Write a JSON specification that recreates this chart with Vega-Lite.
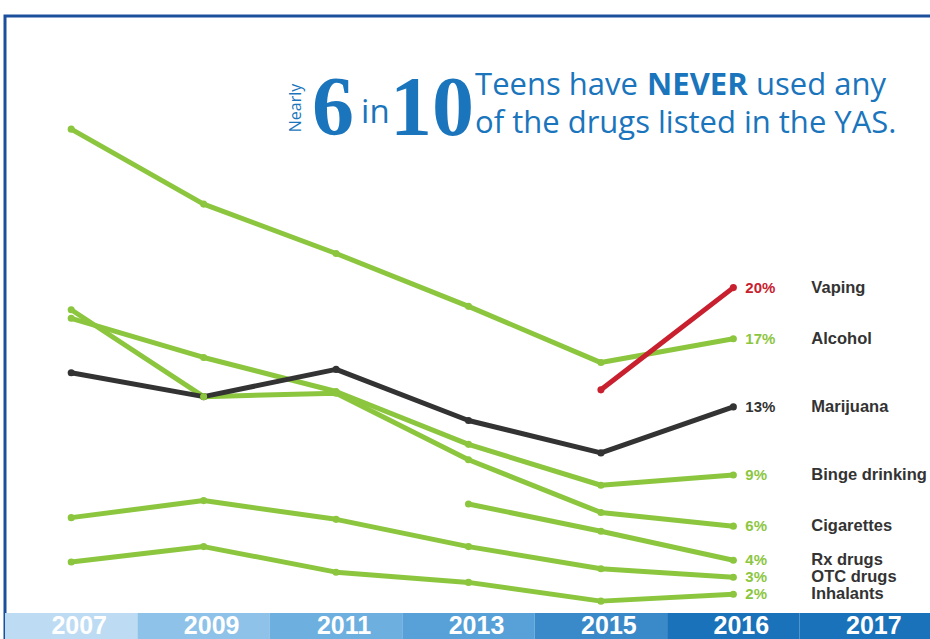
{
  "$schema": "https://vega.github.io/schema/vega-lite/v6.json",
  "width": 930,
  "height": 639,
  "autosize": {"type": "fit", "contains": "padding"},
  "padding": {"left": 5, "top": 16, "right": -2, "bottom": -2},
  "background": "#ffffff",
  "config": {"view": {"stroke": "#1b4f9c", "strokeWidth": 3}},
  "datasets": {
    "years": [
      {"year": "2007"}, {"year": "2009"}, {"year": "2011"}, {"year": "2013"},
      {"year": "2015"}, {"year": "2016"}, {"year": "2017"}
    ],
    "series": [
      {"drug": "Alcohol", "year": "2007", "pct": 29.3},
      {"drug": "Alcohol", "year": "2009", "pct": 24.9},
      {"drug": "Alcohol", "year": "2011", "pct": 22.0},
      {"drug": "Alcohol", "year": "2013", "pct": 18.9},
      {"drug": "Alcohol", "year": "2015", "pct": 15.6},
      {"drug": "Alcohol", "year": "2016", "pct": 17, "label": "17%"},
      {"drug": "Marijuana", "year": "2007", "pct": 15.0},
      {"drug": "Marijuana", "year": "2009", "pct": 13.6},
      {"drug": "Marijuana", "year": "2011", "pct": 15.2},
      {"drug": "Marijuana", "year": "2013", "pct": 12.2},
      {"drug": "Marijuana", "year": "2015", "pct": 10.3},
      {"drug": "Marijuana", "year": "2016", "pct": 13, "label": "13%"},
      {"drug": "Binge drinking", "year": "2007", "pct": 18.2},
      {"drug": "Binge drinking", "year": "2009", "pct": 15.9},
      {"drug": "Binge drinking", "year": "2011", "pct": 13.9},
      {"drug": "Binge drinking", "year": "2013", "pct": 10.8},
      {"drug": "Binge drinking", "year": "2015", "pct": 8.4},
      {"drug": "Binge drinking", "year": "2016", "pct": 9, "label": "9%"},
      {"drug": "Cigarettes", "year": "2007", "pct": 18.7},
      {"drug": "Cigarettes", "year": "2009", "pct": 13.6},
      {"drug": "Cigarettes", "year": "2011", "pct": 13.8},
      {"drug": "Cigarettes", "year": "2013", "pct": 9.9},
      {"drug": "Cigarettes", "year": "2015", "pct": 6.8},
      {"drug": "Cigarettes", "year": "2016", "pct": 6, "label": "6%"},
      {"drug": "Rx drugs", "year": "2013", "pct": 7.3},
      {"drug": "Rx drugs", "year": "2015", "pct": 5.7},
      {"drug": "Rx drugs", "year": "2016", "pct": 4, "label": "4%"},
      {"drug": "OTC drugs", "year": "2007", "pct": 6.5},
      {"drug": "OTC drugs", "year": "2009", "pct": 7.5},
      {"drug": "OTC drugs", "year": "2011", "pct": 6.4},
      {"drug": "OTC drugs", "year": "2013", "pct": 4.8},
      {"drug": "OTC drugs", "year": "2015", "pct": 3.5},
      {"drug": "OTC drugs", "year": "2016", "pct": 3, "label": "3%"},
      {"drug": "Inhalants", "year": "2007", "pct": 3.9},
      {"drug": "Inhalants", "year": "2009", "pct": 4.8},
      {"drug": "Inhalants", "year": "2011", "pct": 3.3},
      {"drug": "Inhalants", "year": "2013", "pct": 2.7},
      {"drug": "Inhalants", "year": "2015", "pct": 1.6},
      {"drug": "Inhalants", "year": "2016", "pct": 2, "label": "2%"},
      {"drug": "Vaping", "year": "2015", "pct": 14.0},
      {"drug": "Vaping", "year": "2016", "pct": 20, "label": "20%"}
    ]
  },
  "resolve": {"scale": {"color": "independent"}},
  "layer": [
    {
      "data": {"name": "years"},
      "mark": {"type": "rect"},
      "encoding": {
        "x": {"field": "year", "type": "ordinal", "axis": null,
              "scale": {"type": "band", "domain": ["2007","2009","2011","2013","2015","2016","2017"], "paddingInner": 0, "paddingOuter": 0}},
        "y": {"datum": 0.9, "type": "quantitative", "axis": null,
              "scale": {"domain": [-0.74, 35.94], "nice": false, "zero": false}},
        "y2": {"datum": -0.74},
        "color": {"field": "year", "type": "ordinal", "legend": null,
                  "scale": {"domain": ["2007","2009","2011","2013","2015","2016","2017"],
                            "range": ["#bddcf3","#8ec2e8","#6db0e0","#57a1d8","#3a89c8","#1a72ba","#1a72ba"]}}
      }
    },
    {
      "data": {"name": "years"},
      "mark": {"type": "text", "font": "Liberation Sans", "fontWeight": "bold", "fontSize": 25, "color": "#ffffff", "baseline": "alphabetic", "align": "center", "dx": 8},
      "encoding": {
        "x": {"field": "year", "type": "ordinal"},
        "y": {"datum": -0.3, "type": "quantitative"},
        "text": {"field": "year"}
      }
    },
    {
      "data": {"name": "series"},
      "transform": [{"filter": "datum.drug != 'Marijuana' && datum.drug != 'Vaping'"}],
      "mark": {"type": "line", "color": "#8cc63f", "strokeWidth": 5, "strokeCap": "round", "strokeJoin": "round"},
      "encoding": {
        "x": {"field": "year", "type": "ordinal"},
        "y": {"field": "pct", "type": "quantitative"},
        "detail": {"field": "drug"}
      }
    },
    {
      "data": {"name": "series"},
      "transform": [{"filter": "datum.drug == 'Marijuana'"}],
      "mark": {"type": "line", "color": "#333333", "strokeWidth": 5, "strokeCap": "round", "strokeJoin": "round"},
      "encoding": {
        "x": {"field": "year", "type": "ordinal"},
        "y": {"field": "pct", "type": "quantitative"}
      }
    },
    {
      "data": {"name": "series"},
      "transform": [{"filter": "datum.drug == 'Vaping'"}],
      "mark": {"type": "line", "color": "#c8202e", "strokeWidth": 5, "strokeCap": "round"},
      "encoding": {
        "x": {"field": "year", "type": "ordinal"},
        "y": {"field": "pct", "type": "quantitative"}
      }
    },
    {
      "data": {"name": "series"},
      "mark": {"type": "circle", "size": 50, "opacity": 1},
      "encoding": {
        "x": {"field": "year", "type": "ordinal"},
        "y": {"field": "pct", "type": "quantitative"},
        "color": {"field": "drug", "type": "nominal", "legend": null,
                  "scale": {"domain": ["Vaping","Alcohol","Marijuana","Binge drinking","Cigarettes","Rx drugs","OTC drugs","Inhalants"],
                            "range": ["#c8202e","#8cc63f","#333333","#8cc63f","#8cc63f","#8cc63f","#8cc63f","#8cc63f"]}}
      }
    },
    {
      "data": {"name": "series"},
      "transform": [{"filter": "datum.year == '2016'"}],
      "mark": {"type": "text", "font": "Liberation Sans", "fontWeight": "bold", "fontSize": 15, "align": "left", "baseline": "middle", "dx": 12},
      "encoding": {
        "x": {"field": "year", "type": "ordinal"},
        "y": {"field": "pct", "type": "quantitative"},
        "text": {"field": "label"},
        "color": {"field": "drug", "type": "nominal", "legend": null,
                  "scale": {"domain": ["Vaping","Alcohol","Marijuana","Binge drinking","Cigarettes","Rx drugs","OTC drugs","Inhalants"],
                            "range": ["#c8202e","#8cc63f","#333333","#8cc63f","#8cc63f","#8cc63f","#8cc63f","#8cc63f"]}}
      }
    },
    {
      "data": {"name": "series"},
      "transform": [{"filter": "datum.year == '2016'"}],
      "mark": {"type": "text", "font": "Liberation Sans", "fontWeight": "bold", "fontSize": 16.5, "align": "left", "baseline": "middle", "dx": 78, "color": "#333333"},
      "encoding": {
        "x": {"field": "year", "type": "ordinal"},
        "y": {"field": "pct", "type": "quantitative"},
        "text": {"field": "drug"}
      }
    },
    {
      "data": {"values": [{}]},
      "mark": {"type": "text", "text": "Nearly", "font": "Open Sans", "fontSize": 16, "angle": 270, "align": "center", "baseline": "alphabetic", "color": "#1a75bc", "dy": -35},
      "encoding": {"x": {"datum": "2011", "type": "ordinal"}, "y": {"datum": 30.54, "type": "quantitative"}}
    },
    {
      "data": {"values": [{}]},
      "mark": {"type": "text", "text": "6", "font": "Liberation Serif", "fontWeight": "bold", "fontSize": 84, "align": "left", "baseline": "alphabetic", "color": "#1a75bc", "dx": -24},
      "encoding": {"x": {"datum": "2011", "type": "ordinal"}, "y": {"datum": 28.96, "type": "quantitative"}}
    },
    {
      "data": {"values": [{}]},
      "mark": {"type": "text", "text": "in", "font": "Open Sans", "fontSize": 33, "align": "left", "baseline": "alphabetic", "color": "#1a75bc", "dx": 25},
      "encoding": {"x": {"datum": "2011", "type": "ordinal"}, "y": {"datum": 29.66, "type": "quantitative"}}
    },
    {
      "data": {"values": [{}]},
      "mark": {"type": "text", "text": "10", "font": "Liberation Serif", "fontWeight": "bold", "fontSize": 84, "align": "left", "baseline": "alphabetic", "color": "#1a75bc", "dx": 54},
      "encoding": {"x": {"datum": "2011", "type": "ordinal"}, "y": {"datum": 28.96, "type": "quantitative"}}
    },
    {
      "data": {"values": [{}]},
      "mark": {"type": "text", "text": "Teens have", "font": "Open Sans", "fontSize": 31, "align": "left", "baseline": "alphabetic", "color": "#1a75bc", "dx": 139},
      "encoding": {"x": {"datum": "2011", "type": "ordinal"}, "y": {"datum": 31.3, "type": "quantitative"}}
    },
    {
      "data": {"values": [{}]},
      "mark": {"type": "text", "text": "NEVER", "font": "Open Sans", "fontWeight": "bold", "fontSize": 31, "align": "left", "baseline": "alphabetic", "color": "#1a75bc", "dx": 311},
      "encoding": {"x": {"datum": "2011", "type": "ordinal"}, "y": {"datum": 31.3, "type": "quantitative"}}
    },
    {
      "data": {"values": [{}]},
      "mark": {"type": "text", "text": "used any", "font": "Open Sans", "fontSize": 31, "align": "left", "baseline": "alphabetic", "color": "#1a75bc", "dx": 420},
      "encoding": {"x": {"datum": "2011", "type": "ordinal"}, "y": {"datum": 31.3, "type": "quantitative"}}
    },
    {
      "data": {"values": [{}]},
      "mark": {"type": "text", "text": "of the drugs listed in the YAS.", "font": "Open Sans", "fontSize": 31, "align": "left", "baseline": "alphabetic", "color": "#1a75bc", "dx": 139},
      "encoding": {"x": {"datum": "2011", "type": "ordinal"}, "y": {"datum": 29.07, "type": "quantitative"}}
    }
  ]
}
